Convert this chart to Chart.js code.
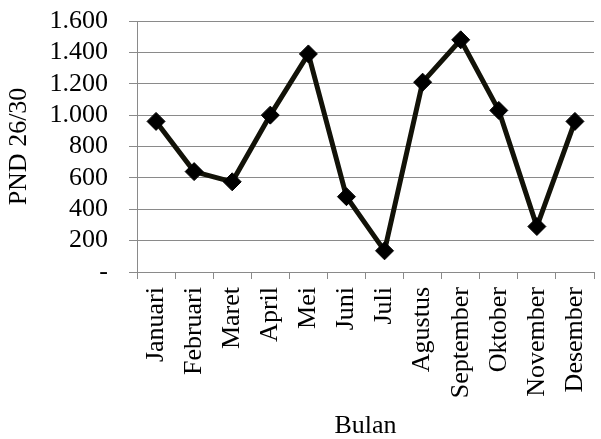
<!DOCTYPE html>
<html>
<head>
<meta charset="utf-8">
<script src="https://cdn.jsdelivr.net/npm/chart.js@4.4.1/dist/chart.umd.min.js"></script>
<style>
  html, body { margin: 0; padding: 0; background: #fff; overflow: hidden; }
  #wrap { width: 604px; height: 439px; }
</style>
</head>
<body>
<div id="wrap"><canvas id="myChart"></canvas></div>
<script>
var bulan = ['Januari', 'Februari', 'Maret', 'April', 'Mei', 'Juni', 'Juli',
             'Agustus', 'September', 'Oktober', 'November', 'Desember'];
var pnd = [960, 640, 575, 1000, 1390, 480, 135, 1210, 1480, 1030, 290, 960];
var yTicks = ['-', '200', '400', '600', '800', '1.000', '1.200', '1.400', '1.600'];

var font = 'Liberation Serif';

var ctx = document.getElementById('myChart').getContext('2d');
var myChart = new Chart(ctx, {
    type: 'line',
    data: {
        labels: bulan,
        datasets: [{
            label: 'PND 26/30',
            data: pnd,
            borderColor: '#121208',
            backgroundColor: '#121208',
            borderWidth: 5,
            tension: 0,
            pointStyle: 'rectRot',
            pointRadius: 9,
            pointBorderWidth: 1,
            pointBorderColor: '#000',
            pointBackgroundColor: '#000'
        }]
    },
    options: {
        responsive: true,
        maintainAspectRatio: false,
        animation: false,
        layout: { padding: { top: 21, right: 0, bottom: 0, left: 0 } },
        plugins: {
            legend: { display: false },
            tooltip: { enabled: false }
        },
        scales: {
            x: {
                offset: true,
                afterFit: function (scale) {
                    scale.height = 167;
                    scale.paddingLeft = 0;
                    scale.paddingRight = 0;
                },
                grid: {
                    offset: true,
                    drawOnChartArea: false,
                    drawTicks: true,
                    tickLength: 7,
                    color: '#8a8a8a'
                },
                border: { color: '#8a8a8a' },
                ticks: {
                    color: '#000',
                    font: { family: font, size: 26 },
                    maxRotation: 90,
                    minRotation: 90,
                    padding: 8,
                    autoSkip: false
                },
                title: {
                    display: true,
                    text: 'Bulan',
                    color: '#000',
                    font: { family: font, size: 26, lineHeight: 1 },
                    padding: { top: 0, bottom: 0 }
                }
            },
            y: {
                min: 0,
                max: 1600,
                afterFit: function (scale) {
                    scale.width = 137;
                    scale.paddingTop = 0;
                    scale.paddingBottom = 0;
                },
                ticks: {
                    stepSize: 200,
                    autoSkip: false,
                    color: '#000',
                    font: { family: font, size: 26 },
                    padding: 21,
                    callback: function (value, index) { return yTicks[index]; }
                },
                grid: {
                    color: '#8a8a8a',
                    tickLength: 8
                },
                border: { color: '#8a8a8a' },
                title: {
                    display: true,
                    text: 'PND 26/30',
                    color: '#000',
                    font: { family: font, size: 26 }
                }
            }
        }
    }
});
</script>
</body>
</html>
